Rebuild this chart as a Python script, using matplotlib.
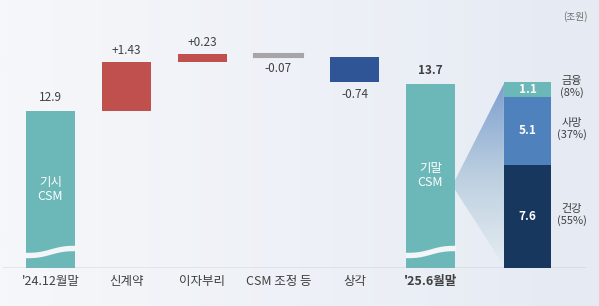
import numpy as np
import matplotlib
matplotlib.use("Agg")
import matplotlib.pyplot as plt
from matplotlib.patches import Polygon
from matplotlib.colors import LinearSegmentedColormap

plt.rcParams['font.family'] = ['Noto Sans CJK KR', 'DejaVu Sans']

# ---- data ----
categories = ["'24.12월말", "신계약", "이자부리", "CSM 조정 등", "상각", "'25.6월말"]
start_value = 12.9
changes = [1.43, 0.23, -0.07, -0.74]
change_labels = ["+1.43", "+0.23", "-0.07", "-0.74"]
end_value = 13.7
seg_names = ["건강\n(55%)", "사망\n(37%)", "금융\n(8%)"]
seg_values = [7.6, 5.1, 1.1]
unit_label = "(조원)"

# ---- colours ----
c_teal = '#6cb7b7'
c_up = '#c0504d'
c_flat = '#a6a6a6'
c_down = '#2f5597'
seg_colors = ['#17375e', '#4f81bd', '#6cb7b7']
txt = '#404040'

W, H = 599, 306
fig = plt.figure(figsize=(W / 100, H / 100), dpi=100)

# background gradient
bg = fig.add_axes([0, 0, 1, 1], zorder=-10)
grad = np.linspace(0, 1, 256).reshape(1, -1)
bgcmap = LinearSegmentedColormap.from_list('bg', ['#f6f7fa', '#eef1f7', '#e5eaf3'])
bg.imshow(grad, aspect='auto', cmap=bgcmap, extent=[0, 1, 0, 1])
bg.axis('off')

ax = fig.add_axes([0, 38 / H, 1, 268 / H])
ax.patch.set_alpha(0)
ax.set_xlim(-0.664, 7.217)
ax.set_ylim(8.28, 8.28 + 268 / 34)
for s in ax.spines.values():
    s.set_visible(False)
ax.set_yticks([])

ax2 = ax.twinx()
ax2.set_ylim(0, 268 / 13.5)
ax2.set_yticks([])
for s in ax2.spines.values():
    s.set_visible(False)

bw = 0.645
base = 8.28
x = np.arange(len(categories))

# start & end bars (broken axis)
ax.bar(x[0], start_value - base, bottom=base, width=bw, color=c_teal, zorder=2)
ax.bar(x[5], end_value - base, bottom=base, width=bw, color=c_teal, zorder=2)

# change bars
level = start_value
for i, (d, lab) in enumerate(zip(changes, change_labels)):
    xi = x[i + 1]
    bottom = level if d >= 0 else level + d
    col = c_up if d > 0 else (c_down if d < -0.5 else c_flat)
    ax.bar(xi, abs(d), bottom=bottom, width=bw, color=col, zorder=2,
           edgecolor=col, linewidth=1.5 if abs(d) < 0.1 else 0)
    if d >= 0:
        ax.annotate(lab, (xi, level + d), xytext=(0, 4), textcoords='offset points',
                    ha='center', va='bottom', fontsize=8.5, color=txt)
    else:
        ax.annotate(lab, (xi, level + d), xytext=(0, -4), textcoords='offset points',
                    ha='center', va='top', fontsize=8.5, color=txt)
    level += d

ax.annotate(f"{start_value:.1f}", (x[0], start_value), xytext=(0, 5), textcoords='offset points',
            ha='center', va='bottom', fontsize=8.5, color=txt)
ax.annotate(f"{end_value:.1f}", (x[5], end_value), xytext=(0, 5), textcoords='offset points',
            ha='center', va='bottom', fontsize=8.5, color=txt, fontweight='bold')

ax.text(x[0], 10.6, "기시\nCSM", ha='center', va='center', color='white', fontsize=9,
        linespacing=1.1, zorder=4)
ax.text(x[5], 11.0, "기말\nCSM", ha='center', va='center', color='white', fontsize=9,
        linespacing=1.1, zorder=4)

# axis-break waves
for xi in (x[0], x[5]):
    t = np.linspace(0, 1, 80)
    xx = xi - bw / 2 - 0.01 + t * (bw + 0.02)
    s_curve = t - np.sin(2 * np.pi * t) / (2 * np.pi)
    centre = base + (13 + 7 * s_curve) / 34
    ax.fill_between(xx, centre - 0.08, centre + 0.08, color='#f3f5f9', zorder=3, lw=0)

# stacked breakdown bar
xs = 6.276
bw2 = 0.62
bot = 0
for v, c, n in zip(seg_values, seg_colors, seg_names):
    ax2.bar(xs, v, bottom=bot, width=bw2, color=c, zorder=2)
    ax2.text(xs, bot + v / 2, f"{v:.1f}", ha='center', va='center', color='white',
             fontsize=8.5, fontweight='bold', zorder=4)
    ax2.text(xs + 0.58, bot + v / 2 + 0.15, n, ha='center', va='center', color=txt,
             fontsize=8, linespacing=1.1)
    bot += v
total = bot

# funnel connector
x_from = x[5] + bw / 2
x_to = xs - bw2 / 2
apex_top, apex_bot = 6.5, 5.8
funnel = [(x_from, apex_top), (x_to, total - 0.15), (x_to, 0.15), (x_from, apex_bot)]
poly = Polygon(funnel, closed=True, facecolor='none', edgecolor='none')
ax2.add_patch(poly)
fcmap = LinearSegmentedColormap.from_list('fun', ['#e6edf2', '#bccfe0', '#7b9dce'])
gy = np.linspace(1, 0, 256).reshape(-1, 1)
im = ax2.imshow(gy, aspect='auto', cmap=fcmap, extent=[x_from, x_to, 0, total], zorder=1)
im.set_clip_path(poly)
ax2.set_xlim(-0.664, 7.217)
ax2.set_ylim(0, 268 / 13.5)

# baseline
ax.axhline(base, xmin=0.005, xmax=0.977, color='#a3a7ad', lw=1.0, zorder=5)

# category labels
ax.set_xticks(x)
ax.set_xticklabels(categories, fontsize=9, color=txt)
ax.get_xticklabels()[5].set_fontweight('bold')
ax.tick_params(axis='x', length=0, pad=5)

fig.text(575 / W, 1 - 17 / H, unit_label, ha='center', va='center', fontsize=7, color='#707070')

fig.savefig('out.png', dpi=100)
